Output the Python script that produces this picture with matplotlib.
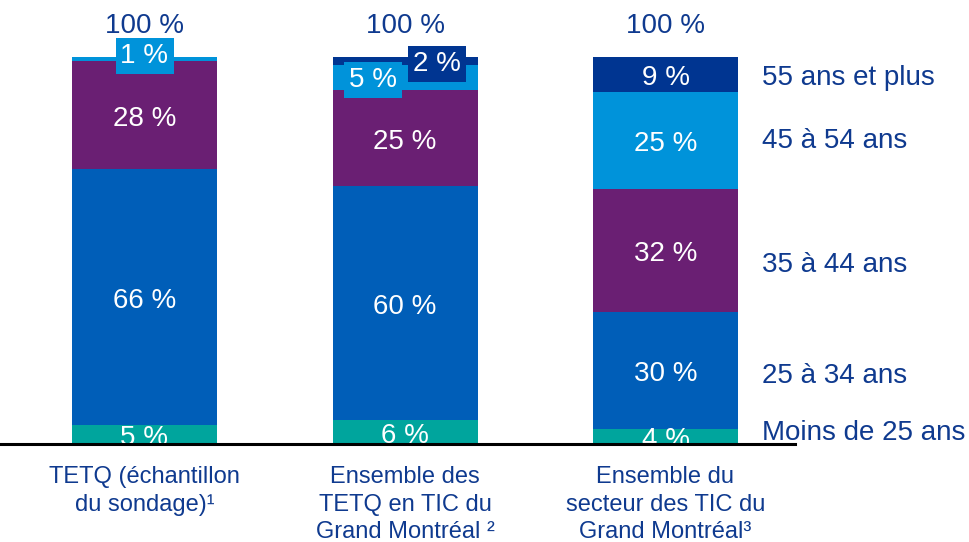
import matplotlib.pyplot as plt

plt.rcParams['font.family'] = ['Liberation Sans', 'DejaVu Sans']

categories = ['TETQ (échantillon\ndu sondage)¹',
              'Ensemble des\nTETQ en TIC du\nGrand Montréal ²',
              'Ensemble du\nsecteur des TIC du\nGrand Montréal³']
age_groups = ['Moins de 25 ans', '25 à 34 ans', '35 à 44 ans', '45 à 54 ans', '55 ans et plus']

# segment heights (bottom -> top), in %
heights = [
    [5, 66, 28, 1, 0],
    [6.2, 60.5, 24.8, 6.5, 2.0],
    [4, 30, 32, 25, 9],
]
# printed labels
labels = [
    ['5 %', '66 %', '28 %', '1 %', ''],
    ['6 %', '60 %', '25 %', '5 %', '2 %'],
    ['4 %', '30 %', '32 %', '25 %', '9 %'],
]
totals = ['100 %', '100 %', '100 %']

colors = ['#00A59D', '#005EB8', '#6A1F73', '#0093DA', '#003591']
text_blue = '#0F3A8F'
dy = -1.0  # nudge text centres down a little

fig = plt.figure(figsize=(9.7, 5.42), dpi=100)
ax = fig.add_axes([0, 98 / 542, 795 / 970, 444 / 542])
ax.set_xlim(-144.5 / 260.5, (795 - 144.5) / 260.5)
ax.set_ylim(0, 100 * 444 / 387)

bw = 145 / 260.5
for i, hs in enumerate(heights):
    bottom = 0
    for j, h in enumerate(hs):
        if h == 0:
            continue
        ax.bar(i, h, bottom=bottom, width=bw, color=colors[j], edgecolor='none', zorder=2)
        lab = labels[i][j]
        if h >= 4 and not (i == 1 and j == 3):
            ax.text(i, bottom + h / 2 + dy, lab, ha='center', va='center', color='white',
                    fontsize=20, zorder=3, clip_on=True)
        bottom += h
    ax.text(i, 109 + dy, totals[i], ha='center', va='center', color=text_blue, fontsize=20, clip_on=False)

# small segments get labels in coloured boxes
small = [(0, 0.0, 100.3, labels[0][3], colors[3]),
         (1, -0.123, 94.1, labels[1][3], colors[3]),
         (1, 0.123, 98.2, labels[1][4], colors[4])]
for i, dx, y, lab, c in small:
    ax.text(i + dx, y, lab, ha='center', va='center', color='white', fontsize=20, zorder=4,
            bbox=dict(boxstyle='square,pad=0.18', facecolor=c, edgecolor='none'))

# legend labels on the right
legend_y = [3.9, 18.6, 47.3, 79.3, 95.6]
for name, y in zip(age_groups, legend_y):
    ax.text((762 - 144.5) / 260.5, y + dy, name, ha='left', va='center', color=text_blue,
            fontsize=20, clip_on=False)

for s in ['top', 'right', 'left']:
    ax.spines[s].set_visible(False)
ax.spines['bottom'].set_linewidth(2.2)
ax.spines['bottom'].set_color('black')
ax.spines['bottom'].set_zorder(5)
ax.set_yticks([])
ax.set_xticks(range(3))
ax.set_xticklabels(categories, color=text_blue, fontsize=17, linespacing=1.32)
ax.tick_params(axis='x', length=0, pad=16)
ax.patch.set_alpha(0)

fig.savefig('out.png', dpi=100)
